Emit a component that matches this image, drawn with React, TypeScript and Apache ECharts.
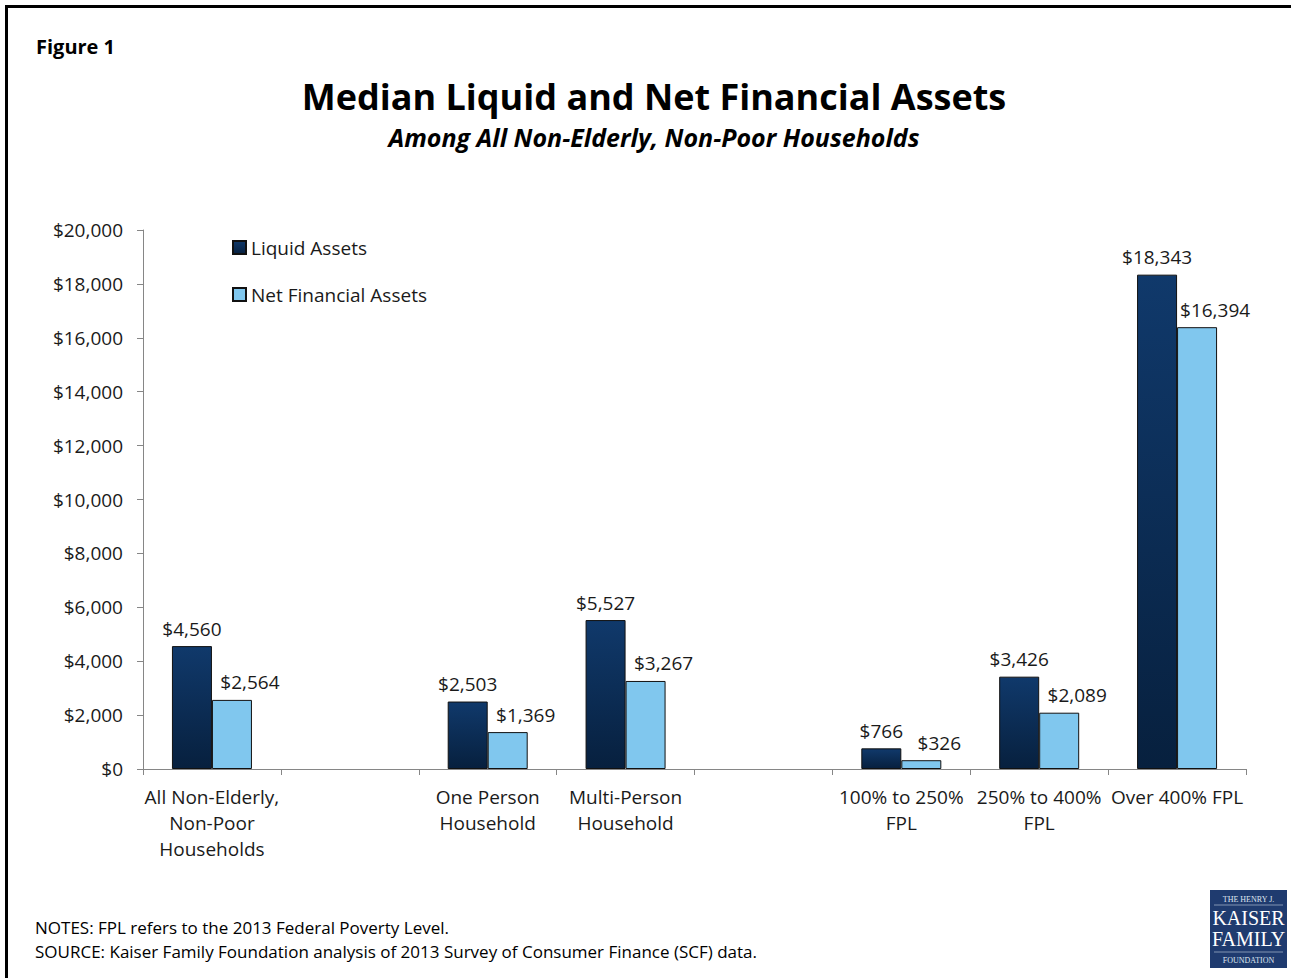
import React, { useEffect, useRef } from "react";
import * as echarts from "echarts";

const categories = [
  "All Non-Elderly,\nNon-Poor\nHouseholds",
  "",
  "One Person\nHousehold",
  "Multi-Person\nHousehold",
  "",
  "100% to 250%\nFPL",
  "250% to 400%\nFPL",
  "Over 400% FPL",
];
const liquidAssets = [4560, null, 2503, 5527, null, 766, 3426, 18343];
const netFinancialAssets = [2564, null, 1369, 3267, null, 326, 2089, 16394];
const seriesNames = ["Liquid Assets", "Net Financial Assets"];

const FONT = "'Open Sans', 'Noto Sans', sans-serif";
const LBL = 19;
const fmt = (v: number) => "$" + v.toLocaleString("en-US");

export default function App() {
  const ref = useRef<HTMLDivElement>(null);
  useEffect(() => {
    if (!ref.current) return;
    const chart = echarts.init(ref.current, null, { renderer: "svg" });
    const darkGrad = new echarts.graphic.LinearGradient(0, 0, 0, 1, [
      { offset: 0, color: "#10396b" },
      { offset: 1, color: "#07203e" },
    ]);
    chart.setOption({
      animation: false,
      backgroundColor: "#ffffff",
      textStyle: { fontFamily: FONT },
      graphic: [
        {
          type: "rect",
          shape: { x: 6.5, y: 6.5, width: 1400, height: 1100 },
          style: { fill: "none", stroke: "#000", lineWidth: 3 },
        },
        {
          type: "text",
          x: 36,
          y: 46,
          style: { text: "Figure 1", font: `bold 20px ${FONT}`, fill: "#000", verticalAlign: "middle" },
        },
        {
          type: "text",
          x: 654,
          y: 96,
          style: {
            text: "Median Liquid and Net Financial Assets",
            font: `bold 36px ${FONT}`,
            fill: "#000",
            align: "center",
            verticalAlign: "middle",
          },
        },
        {
          type: "text",
          x: 654,
          y: 137,
          style: {
            text: "Among All Non-Elderly, Non-Poor Households",
            font: `italic bold 25px ${FONT}`,
            fill: "#000",
            align: "center",
            verticalAlign: "middle",
          },
        },
        {
          type: "text",
          x: 35,
          y: 927,
          style: {
            text: "NOTES: FPL refers to the 2013 Federal Poverty Level.",
            font: `17px ${FONT}`,
            fill: "#000",
            verticalAlign: "middle",
          },
        },
        {
          type: "text",
          x: 35,
          y: 951,
          style: {
            text: "SOURCE: Kaiser Family Foundation analysis of 2013 Survey of Consumer Finance (SCF) data.",
            font: `17px ${FONT}`,
            fill: "#000",
            verticalAlign: "middle",
          },
        },
        {
          type: "group",
          x: 1210,
          y: 890,
          children: [
            { type: "rect", shape: { x: 0, y: 0, width: 77, height: 78 }, style: { fill: "#1f3b6f" } },
            {
              type: "text",
              x: 38.5,
              y: 9,
              style: { text: "THE HENRY J.", font: "8px 'Liberation Serif', serif", fill: "#dfe6f0", align: "center", verticalAlign: "middle" },
            },
            { type: "line", shape: { x1: 4, y1: 15, x2: 73, y2: 15 }, style: { stroke: "#aebbd0", lineWidth: 0.7 } },
            {
              type: "text",
              x: 38.5,
              y: 28,
              style: { text: "KAISER", font: "20px 'Liberation Serif', serif", fill: "#ffffff", align: "center", verticalAlign: "middle" },
            },
            {
              type: "text",
              x: 38.5,
              y: 49,
              style: { text: "FAMILY", font: "20px 'Liberation Serif', serif", fill: "#ffffff", align: "center", verticalAlign: "middle" },
            },
            { type: "line", shape: { x1: 4, y1: 62, x2: 73, y2: 62 }, style: { stroke: "#aebbd0", lineWidth: 0.7 } },
            {
              type: "text",
              x: 38.5,
              y: 70,
              style: { text: "FOUNDATION", font: "8px 'Liberation Serif', serif", fill: "#dfe6f0", align: "center", verticalAlign: "middle" },
            },
          ],
        },
      ],
      legend: {
        orient: "vertical",
        left: 232,
        top: 238,
        padding: 0,
        itemWidth: 13,
        itemHeight: 13,
        itemGap: 28,
        icon: "rect",
        textStyle: { fontSize: LBL, color: "#1a1a1a", fontFamily: FONT },
        data: seriesNames,
      },
      grid: { left: 143, right: 45, top: 230, bottom: 209, containLabel: false },
      xAxis: {
        type: "category",
        data: categories,
        axisLine: { lineStyle: { color: "#868686", width: 1 } },
        axisTick: { show: true, length: 6, lineStyle: { color: "#868686" } },
        axisLabel: {
          interval: 0,
          fontSize: LBL,
          lineHeight: 26,
          color: "#1a1a1a",
          margin: 15,
          fontFamily: FONT,
        },
      },
      yAxis: {
        type: "value",
        min: 0,
        max: 20000,
        interval: 2000,
        axisLine: { show: true, lineStyle: { color: "#868686", width: 1 } },
        axisTick: { show: true, length: 6, lineStyle: { color: "#868686" } },
        splitLine: { show: false },
        axisLabel: {
          fontSize: LBL,
          color: "#1a1a1a",
          margin: 20,
          fontFamily: FONT,
          formatter: (v: number) => fmt(v),
        },
      },
      series: [
        {
          name: seriesNames[0],
          type: "bar",
          data: liquidAssets,
          barWidth: 40,
          barGap: "0%",
          itemStyle: { color: darkGrad, borderColor: "#111", borderWidth: 1 },
          label: {
            show: true,
            position: "top",
            distance: 8,
            fontSize: LBL,
            color: "#1a1a1a",
            fontFamily: FONT,
            formatter: (p: any) => fmt(p.value),
          },
        },
        {
          name: seriesNames[1],
          type: "bar",
          data: netFinancialAssets,
          barWidth: 40,
          barGap: "0%",
          itemStyle: { color: "#80c7ee", borderColor: "#111", borderWidth: 1 },
          label: {
            show: true,
            position: "top",
            distance: 8,
            offset: [18, 0],
            fontSize: LBL,
            color: "#1a1a1a",
            fontFamily: FONT,
            formatter: (p: any) => fmt(p.value),
          },
        },
      ],
    });
    return () => chart.dispose();
  }, []);
  return (
    <div
      ref={ref}
      style={{ position: "fixed", left: 0, top: 0, width: 1291, height: 978 }}
    />
  );
}
